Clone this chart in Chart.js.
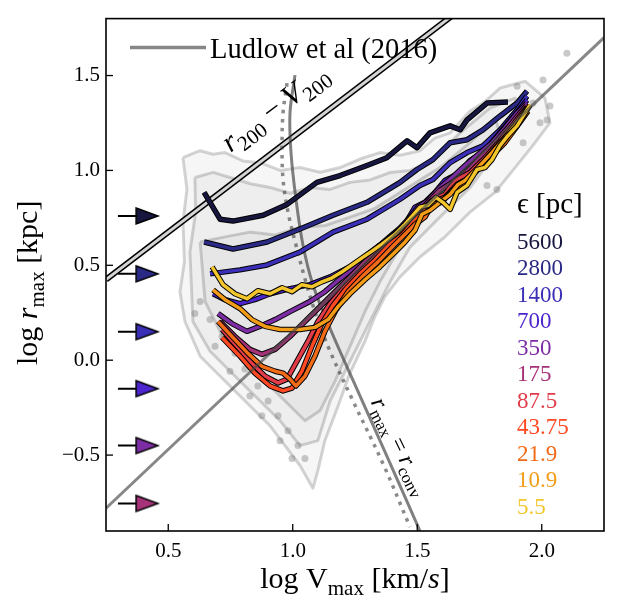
<!DOCTYPE html>
<html>
<head>
<meta charset="utf-8">
<script src="https://cdn.jsdelivr.net/npm/chart.js@4.4.1/dist/chart.umd.min.js"></script>
<style>
  html, body { margin: 0; padding: 0; background: #fff; }
</style>
</head>
<body>
<canvas id="chart" width="620" height="611"></canvas>
<script>
// axes
const X_RANGE = [0.25, 2.25];
const Y_RANGE = [-0.9, 1.8];
const X_TICKS = [0.5, 1.0, 1.5, 2.0];
const Y_TICKS = [-0.5, 0.0, 0.5, 1.0, 1.5];

// softening lengths (pc), one curve each
const EPS_LABELS = ['5600', '2800', '1400', '700', '350', '175', '87.5', '43.75', '21.9', '10.9', '5.5'];

// median log rmax vs log Vmax
const R_5600 = [[0.644,0.884],[0.708,0.743],[0.760,0.733],[0.881,0.764],[0.977,0.821],[1.097,0.937],[1.190,0.973],[1.298,1.026],[1.378,1.067],[1.459,1.156],[1.499,1.120],[1.551,1.198],[1.632,1.235],[1.672,1.214],[1.700,1.266],[1.780,1.355],[1.864,1.360]];
const R_2800 = [[0.644,0.623],[0.760,0.586],[0.897,0.623],[1.029,0.691],[1.162,0.764],[1.298,0.832],[1.431,0.937],[1.499,1.005],[1.563,1.057],[1.632,1.146],[1.700,1.162],[1.764,1.214],[1.833,1.287],[1.901,1.355],[1.941,1.418]];
const R_1400 = [[0.668,0.455],[0.788,0.476],[0.897,0.502],[1.029,0.570],[1.162,0.675],[1.298,0.743],[1.431,0.848],[1.511,0.921],[1.563,0.952],[1.632,1.041],[1.700,1.094],[1.764,1.130],[1.833,1.214],[1.901,1.319],[1.941,1.392]];
const R_700 = [[0.680,0.350],[0.728,0.319],[0.788,0.298],[0.848,0.319],[0.909,0.350],[0.989,0.377],[1.069,0.398],[1.150,0.439],[1.230,0.492],[1.290,0.544],[1.350,0.607],[1.411,0.675],[1.451,0.717],[1.491,0.806],[1.531,0.832],[1.571,0.884],[1.611,0.947],[1.672,0.989],[1.712,1.052],[1.772,1.104],[1.832,1.198],[1.893,1.292],[1.941,1.371]];
const R_350 = [[0.700,0.246],[0.756,0.193],[0.816,0.152],[0.868,0.178],[0.929,0.214],[0.989,0.256],[1.069,0.309],[1.129,0.361],[1.190,0.429],[1.250,0.492],[1.310,0.544],[1.370,0.623],[1.423,0.685],[1.471,0.754],[1.503,0.806],[1.543,0.842],[1.591,0.910],[1.640,0.963],[1.692,1.026],[1.744,1.083],[1.800,1.146],[1.852,1.224],[1.901,1.303],[1.941,1.355]];
const R_175 = [[0.708,0.204],[0.768,0.125],[0.828,0.057],[0.876,0.031],[0.929,0.057],[0.989,0.125],[1.049,0.204],[1.109,0.282],[1.170,0.361],[1.230,0.439],[1.290,0.518],[1.350,0.581],[1.411,0.664],[1.463,0.727],[1.503,0.780],[1.543,0.832],[1.591,0.895],[1.652,0.947],[1.704,0.999],[1.752,1.067],[1.812,1.146],[1.864,1.224],[1.913,1.303],[1.941,1.345]];
const R_87 = [[0.716,0.162],[0.776,0.073],[0.836,-0.016],[0.889,-0.084],[0.941,-0.120],[0.977,-0.100],[1.017,-0.005],[1.061,0.099],[1.101,0.204],[1.150,0.298],[1.210,0.387],[1.270,0.466],[1.330,0.544],[1.391,0.623],[1.439,0.685],[1.479,0.738],[1.519,0.790],[1.559,0.842],[1.611,0.874],[1.652,0.947],[1.712,0.989],[1.772,1.067],[1.832,1.156],[1.884,1.240],[1.941,1.334]];
const R_43 = [[0.716,0.120],[0.788,0.021],[0.848,-0.068],[0.909,-0.136],[0.961,-0.162],[0.997,-0.147],[1.037,-0.058],[1.077,0.073],[1.117,0.193],[1.158,0.282],[1.210,0.371],[1.270,0.455],[1.330,0.528],[1.391,0.612],[1.443,0.664],[1.483,0.727],[1.523,0.780],[1.563,0.832],[1.611,0.858],[1.660,0.926],[1.712,0.963],[1.772,1.052],[1.832,1.146],[1.893,1.224],[1.941,1.324]];
const R_21 = [[0.700,0.204],[0.756,0.125],[0.820,0.036],[0.876,-0.032],[0.929,-0.058],[0.961,-0.068],[0.989,-0.100],[1.013,-0.136],[1.049,-0.084],[1.089,0.021],[1.129,0.152],[1.170,0.256],[1.222,0.361],[1.278,0.439],[1.342,0.518],[1.399,0.596],[1.451,0.664],[1.491,0.717],[1.531,0.754],[1.559,0.821],[1.599,0.832],[1.640,0.895],[1.680,0.910],[1.732,0.989],[1.792,1.067],[1.852,1.146],[1.905,1.240],[1.945,1.313]];
const R_10 = [[0.680,0.371],[0.728,0.319],[0.788,0.272],[0.836,0.214],[0.889,0.178],[0.949,0.162],[1.029,0.162],[1.089,0.173],[1.142,0.214],[1.182,0.282],[1.230,0.350],[1.290,0.424],[1.350,0.492],[1.411,0.570],[1.451,0.623],[1.491,0.685],[1.519,0.769],[1.551,0.790],[1.591,0.832],[1.632,0.874],[1.664,0.926],[1.692,0.947],[1.744,1.015],[1.800,1.094],[1.852,1.172],[1.905,1.261],[1.945,1.334]];
const R_5 = [[0.676,0.492],[0.720,0.398],[0.768,0.350],[0.816,0.324],[0.860,0.366],[0.909,0.350],[0.957,0.382],[0.997,0.361],[1.037,0.398],[1.077,0.387],[1.117,0.413],[1.158,0.434],[1.198,0.466],[1.238,0.502],[1.278,0.539],[1.318,0.575],[1.358,0.612],[1.411,0.664],[1.451,0.717],[1.483,0.764],[1.511,0.806],[1.543,0.816],[1.575,0.858],[1.603,0.832],[1.632,0.795],[1.660,0.884],[1.700,0.921],[1.740,1.005],[1.772,1.015],[1.800,1.057],[1.832,1.130],[1.864,1.183],[1.901,1.235],[1.953,1.345]];
const SERIES = [R_5600, R_2800, R_1400, R_700, R_350, R_175, R_87, R_43, R_21, R_10, R_5];

// reference relations
const LUDLOW_LINE = [[0.25, -0.78], [2.25, 1.70]];
const R200_LINE = [[0.25, 0.425], [1.65, 1.825]];
const RCONV_SOLID = [[1.009,1.502],[0.989,1.303],[0.993,1.094],[1.013,0.848],[1.041,0.607],[1.081,0.398],[1.150,0.167],[1.270,-0.188],[1.391,-0.544],[1.511,-0.900]];
const RCONV_DOTTED = [[0.977,1.460],[0.961,1.303],[0.957,1.130],[0.961,0.952],[0.981,0.780],[1.013,0.607],[1.049,0.429],[1.093,0.241],[1.150,0.047],[1.242,-0.215],[1.362,-0.544],[1.471,-0.879]];

// log eps (kpc) markers on the left
const ARROW_Y = [0.76, 0.455, 0.15, -0.15, -0.45, -0.755];
const ARROW_TAIL_X = 0.298;
const ARROW_HEAD_X = 0.415;

// halo population contours (outer -> inner) and stray points
const CONTOUR_OUTER = [[0.559,1.067],[0.600,1.090],[0.628,1.104],[0.680,1.085],[0.728,1.094],[0.800,1.050],[0.868,1.041],[0.950,1.000],[1.029,1.015],[1.110,0.990],[1.190,1.015],[1.270,1.060],[1.350,1.094],[1.430,1.080],[1.511,1.104],[1.570,1.170],[1.632,1.198],[1.712,1.313],[1.770,1.360],[1.832,1.434],[1.933,1.470],[2.013,1.381],[2.033,1.251],[1.973,1.146],[1.893,1.015],[1.812,0.884],[1.712,0.780],[1.611,0.649],[1.511,0.544],[1.431,0.439],[1.370,0.335],[1.330,0.230],[1.290,0.099],[1.230,-0.068],[1.182,-0.241],[1.129,-0.424],[1.101,-0.581],[1.081,-0.675],[1.029,-0.555],[0.909,-0.346],[0.768,-0.162],[0.628,0.021],[0.567,0.204],[0.547,0.361],[0.565,0.520],[0.559,0.727],[0.575,0.900]];
const CONTOUR_MID = [[0.607,0.963],[0.680,0.990],[0.748,0.963],[0.830,0.930],[0.909,0.910],[0.990,0.880],[1.069,0.910],[1.150,0.900],[1.230,0.937],[1.310,0.950],[1.391,0.989],[1.470,1.000],[1.551,1.041],[1.672,1.198],[1.792,1.329],[1.893,1.381],[1.913,1.277],[1.832,1.120],[1.712,0.910],[1.591,0.754],[1.471,0.596],[1.391,0.413],[1.330,0.256],[1.270,0.099],[1.210,-0.058],[1.150,-0.215],[1.101,-0.424],[1.029,-0.450],[0.949,-0.319],[0.808,-0.136],[0.668,0.047],[0.599,0.204],[0.587,0.570],[0.610,0.780]];
const CONTOUR_INNER = [[0.628,0.623],[0.728,0.650],[0.828,0.675],[0.930,0.660],[1.029,0.701],[1.130,0.710],[1.230,0.754],[1.330,0.800],[1.431,0.884],[1.591,1.015],[1.712,1.146],[1.812,1.277],[1.832,1.198],[1.712,0.989],[1.551,0.780],[1.431,0.596],[1.350,0.413],[1.290,0.256],[1.230,0.073],[1.170,-0.110],[1.109,-0.267],[1.049,-0.319],[0.969,-0.215],[0.848,-0.058],[0.728,0.099],[0.648,0.309]];
const STRAY_POINTS = [[0.628,0.309],[0.668,0.214],[0.716,0.125],[0.768,0.036],[0.808,-0.047],[0.860,-0.136],[0.901,-0.215],[0.941,-0.293],[0.981,-0.372],[1.021,-0.450],[1.049,-0.518],[0.607,0.246],[0.688,0.073],[0.748,-0.058],[0.828,-0.188],[0.876,-0.293],[0.949,-0.424],[0.997,-0.518],[1.901,1.444],[2.005,1.476],[2.101,1.617],[1.965,1.355],[2.033,1.340],[2.021,1.266],[1.993,1.251],[1.925,1.146],[1.820,0.900],[1.780,0.921]];

// styles
const EPS_COLORS = ['#16163f', '#2a2a86', '#3a2fb6', '#4c26cc', '#7c2da4', '#a6337a', '#e23b49', '#ff4922', '#f26c18', '#f39c18', '#f2c62c'];
const SERIF = '"Liberation Serif", "DejaVu Serif", serif';
const GREY_LINE = 'rgba(70,70,70,0.65)';

const pts = (arr) => arr.map(([x, y]) => ({ x, y }));
const line = (arr, color, width, extra) => ({
  data: pts(arr),
  borderColor: color,
  borderWidth: width,
  pointRadius: 0,
  fill: false,
  tension: 0,
  borderJoinStyle: 'round',
  ...extra,
});

function arrowHead(color) {
  const c = document.createElement('canvas');
  c.width = 26;
  c.height = 20;
  const g = c.getContext('2d');
  g.beginPath();
  g.moveTo(2, 2);
  g.lineTo(24, 10);
  g.lineTo(2, 18);
  g.closePath();
  g.fillStyle = color;
  g.fill();
  g.lineWidth = 1.5;
  g.strokeStyle = '#000';
  g.stroke();
  return c;
}

// datasets listed back to front
const layers = [];
[CONTOUR_OUTER, CONTOUR_MID, CONTOUR_INNER].forEach((poly) => {
  layers.push(line([...poly, poly[0]], 'rgba(0,0,0,0.17)', 3, { fill: 'shape', backgroundColor: 'rgba(0,0,0,0.035)' }));
});
layers.push({ data: pts(STRAY_POINTS), showLine: false, pointRadius: 3.5, pointBorderWidth: 0, pointBackgroundColor: 'rgba(120,120,120,0.4)' });
layers.push(line(R200_LINE, '#000', 6));
layers.push(line(R200_LINE, '#d4d4d4', 3));
layers.push(line(RCONV_SOLID, 'rgba(60,60,60,0.65)', 3, { tension: 0.35 }));
layers.push(line(RCONV_DOTTED, 'rgba(60,60,60,0.6)', 3.5, { tension: 0.35, borderDash: [3.5, 5.5] }));
SERIES.forEach((s, i) => {
  layers.push(line(s, '#000', 5.5));
  layers.push(line(s, EPS_COLORS[i], 3.5));
});
layers.push(line(LUDLOW_LINE, GREY_LINE, 3));
ARROW_Y.forEach((v, i) => {
  layers.push(line([[ARROW_TAIL_X, v], [ARROW_HEAD_X - 0.03, v]], '#000', 2));
  layers.push({ data: pts([[ARROW_HEAD_X, v]]), showLine: false, pointRadius: 10, pointStyle: arrowHead(EPS_COLORS[i]) });
});
layers.forEach((d, i) => { d.order = layers.length - i; });

function drawRich(ctx, parts, x, y, size, angle, align) {
  ctx.save();
  ctx.translate(x, y);
  ctx.rotate(angle);
  ctx.textAlign = 'left';
  ctx.textBaseline = 'alphabetic';
  ctx.fillStyle = '#000';
  const fontOf = (p) => `${p[1] && p[1].it ? 'italic ' : ''}${(p[1] && p[1].sub ? 0.7 : 1) * size}px ${SERIF}`;
  let w = 0;
  const widths = parts.map((p) => { ctx.font = fontOf(p); const m = ctx.measureText(p[0]).width; w += m; return m; });
  let cx = align === 'center' ? -w / 2 : 0;
  parts.forEach((p, i) => {
    ctx.font = fontOf(p);
    ctx.fillText(p[0], cx, p[1] && p[1].sub ? size * 0.24 : 0);
    cx += widths[i];
  });
  ctx.restore();
}

const overlay = {
  id: 'overlay',
  afterDatasetsDraw(chart) {
    const { ctx, chartArea: a, scales: { x, y } } = chart;
    ctx.save();
    ctx.strokeStyle = '#000';
    ctx.lineWidth = 1.3;
    X_TICKS.forEach((v) => {
      const px = x.getPixelForValue(v);
      ctx.beginPath(); ctx.moveTo(px, a.bottom); ctx.lineTo(px, a.bottom - 7); ctx.stroke();
    });
    Y_TICKS.forEach((v) => {
      const py = y.getPixelForValue(v);
      ctx.beginPath(); ctx.moveTo(a.left, py); ctx.lineTo(a.left + 7, py); ctx.stroke();
    });
    ctx.lineWidth = 1.6;
    ctx.strokeRect(a.left, a.top, a.right - a.left, a.bottom - a.top);

    // Ludlow legend
    ctx.strokeStyle = GREY_LINE;
    ctx.lineWidth = 3.5;
    ctx.beginPath(); ctx.moveTo(a.left + 24, a.top + 29); ctx.lineTo(a.left + 100, a.top + 29); ctx.stroke();
    ctx.fillStyle = '#000';
    ctx.font = `28.5px ${SERIF}`;
    ctx.textAlign = 'left';
    ctx.textBaseline = 'alphabetic';
    ctx.fillText('Ludlow et al (2016)', a.left + 104, a.top + 39);

    // softening legend
    ctx.font = `29px ${SERIF}`;
    ctx.fillText('ϵ [pc]', a.left + 411, a.top + 194);
    ctx.font = `23px ${SERIF}`;
    EPS_LABELS.forEach((t, i) => {
      ctx.fillStyle = EPS_COLORS[i];
      ctx.fillText(t, a.left + 411, a.top + 230 + 26.5 * i);
    });
    ctx.restore();

    // line annotations
    drawRich(ctx, [['r', { it: 1 }], ['200', { sub: 1 }], [' − '], ['V', { it: 1 }], ['200', { sub: 1 }]],
      x.getPixelForValue(0.950), y.getPixelForValue(1.29), 30, -37 * Math.PI / 180, 'center');
    drawRich(ctx, [['r', { it: 1 }], ['max', { sub: 1 }], [' = '], ['r', { it: 1 }], ['conv', { sub: 1 }]],
      x.getPixelForValue(1.405), y.getPixelForValue(-0.47), 24, 64 * Math.PI / 180, 'center');

    // axis titles
    drawRich(ctx, [['log '], ['V'], ['max', { sub: 1 }], [' [km/'], ['s', { it: 1 }], [']']],
      (a.left + a.right) / 2, 588, 30, 0, 'center');
    drawRich(ctx, [['log '], ['r', { it: 1 }], ['max', { sub: 1 }], [' [kpc]']],
      37, (a.top + a.bottom) / 2 + 8, 30, -Math.PI / 2, 'center');
  },
};

const tickLabel = (v) => (v < 0 ? '\u2212' : '') + Math.abs(v).toFixed(1);

new Chart(document.getElementById('chart'), {
  type: 'line',
  data: { datasets: layers },
  options: {
    responsive: false,
    animation: false,
    events: [],
    layout: { padding: { top: 15, right: 16, left: 0, bottom: 0 } },
    plugins: { legend: { display: false }, tooltip: { enabled: false } },
    scales: {
      x: {
        type: 'linear',
        min: X_RANGE[0],
        max: X_RANGE[1],
        afterBuildTicks: (s) => { s.ticks = X_TICKS.map((value) => ({ value })); },
        afterFit: (s) => { s.height = 80; },
        grid: { display: false, drawTicks: false },
        border: { display: false },
        ticks: { callback: tickLabel, font: { family: SERIF, size: 21 }, color: '#000', padding: 8, maxRotation: 0, autoSkip: false },
      },
      y: {
        type: 'linear',
        min: Y_RANGE[0],
        max: Y_RANGE[1],
        afterBuildTicks: (s) => { s.ticks = Y_TICKS.map((value) => ({ value })); },
        afterFit: (s) => { s.width = 106; },
        grid: { display: false, drawTicks: false },
        border: { display: false },
        ticks: { callback: tickLabel, font: { family: SERIF, size: 21 }, color: '#000', padding: 6, autoSkip: false },
      },
    },
  },
  plugins: [overlay],
});
</script>
</body>
</html>
